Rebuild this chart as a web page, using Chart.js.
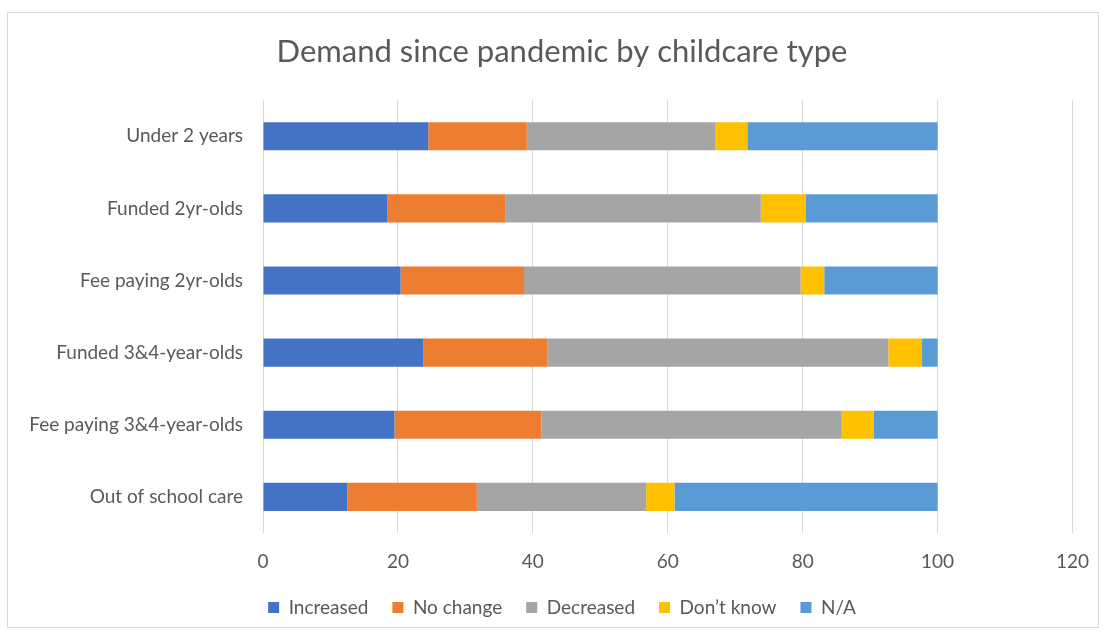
<!DOCTYPE html>
<html>
<head>
<meta charset="utf-8">
<title>Demand since pandemic by childcare type</title>
<script src="https://cdn.jsdelivr.net/npm/chart.js@4"></script>
<style>
  body { margin: 0; background: #fff; }
  #wrap { position: relative; width: 1106px; height: 637px; }
  #frame { position: absolute; left: 7px; top: 12px; width: 1090px; height: 614px; border: 1px solid #d9d9d9; pointer-events: none; }
  canvas { position: absolute; left: 0; top: 0; }
</style>
</head>
<body>
<div id="wrap">
  <canvas id="demandChart" width="1106" height="637"></canvas>
  <div id="frame"></div>
</div>
<script>
// categories, top to bottom
const categories = ['Under 2 years', 'Funded 2yr-olds', 'Fee paying 2yr-olds', 'Funded 3&4-year-olds', 'Fee paying 3&4-year-olds', 'Out of school care'];

// series values (percent)
const increased = [24.5, 18.4, 20.4, 23.8, 19.5, 12.5];
const noChange  = [14.6, 17.5, 18.3, 18.4, 21.8, 19.2];
const decreased = [28.0, 37.9, 41.0, 50.5, 44.5, 25.1];
const dontKnow  = [4.7, 6.7, 3.5, 5.0, 4.7, 4.2];
const notApplic = [28.2, 19.5, 16.8, 2.3, 9.5, 39.0];

const xTicks = [0, 20, 40, 60, 80, 100, 120];

const textColor = '#595959';
const fontFamily = 'Lato, "Open Sans", sans-serif';

const ctx = document.getElementById('demandChart').getContext('2d');

new Chart(ctx, {
    type: 'bar',
    data: {
        labels: categories,
        datasets: [
            { label: 'Increased', data: increased, backgroundColor: '#4472C4' },
            { label: 'No change', data: noChange, backgroundColor: '#ED7D31' },
            { label: 'Decreased', data: decreased, backgroundColor: '#A5A5A5' },
            { label: 'Don\u2019t know', data: dontKnow, backgroundColor: '#FFC000' },
            { label: 'N/A', data: notApplic, backgroundColor: '#5B9BD5' }
        ]
    },
    options: {
        indexAxis: 'y',
        responsive: false,
        animation: false,
        barPercentage: 0.39,
        categoryPercentage: 1,
        layout: {
            padding: { left: 18, right: 0, top: 0, bottom: 10 }
        },
        plugins: {
            title: {
                display: true,
                text: 'Demand since pandemic by childcare type',
                color: textColor,
                font: { family: fontFamily, size: 31, weight: 'normal' },
                padding: { top: 33, bottom: 30 }
            },
            legend: {
                position: 'bottom',
                labels: {
                    color: textColor,
                    font: { family: fontFamily, size: 19 },
                    boxWidth: 11,
                    boxHeight: 11,
                    padding: 24
                }
            },
            tooltip: { enabled: false }
        },
        scales: {
            x: {
                stacked: true,
                min: 0,
                max: 120,
                afterBuildTicks: scale => {
                    scale.ticks = xTicks.map(v => ({ value: v }));
                },
                afterFit: scale => { scale.height = 41; },
                grid: { color: '#d9d9d9', lineWidth: 1, drawTicks: false },
                border: { display: false },
                ticks: {
                    color: textColor,
                    font: { family: fontFamily, size: 19 },
                    padding: 17
                }
            },
            y: {
                stacked: true,
                afterFit: scale => { scale.width = 245; },
                grid: { display: false, drawTicks: false },
                border: { display: false },
                ticks: {
                    color: textColor,
                    font: { family: fontFamily, size: 19 },
                    padding: 20
                }
            },
            // empty right margin so the title and legend centre like the original
            yRight: {
                type: 'category',
                position: 'right',
                afterFit: scale => { scale.width = 33; },
                grid: { display: false, drawTicks: false },
                border: { display: false },
                ticks: { display: false }
            }
        }
    }
});
</script>
</body>
</html>
